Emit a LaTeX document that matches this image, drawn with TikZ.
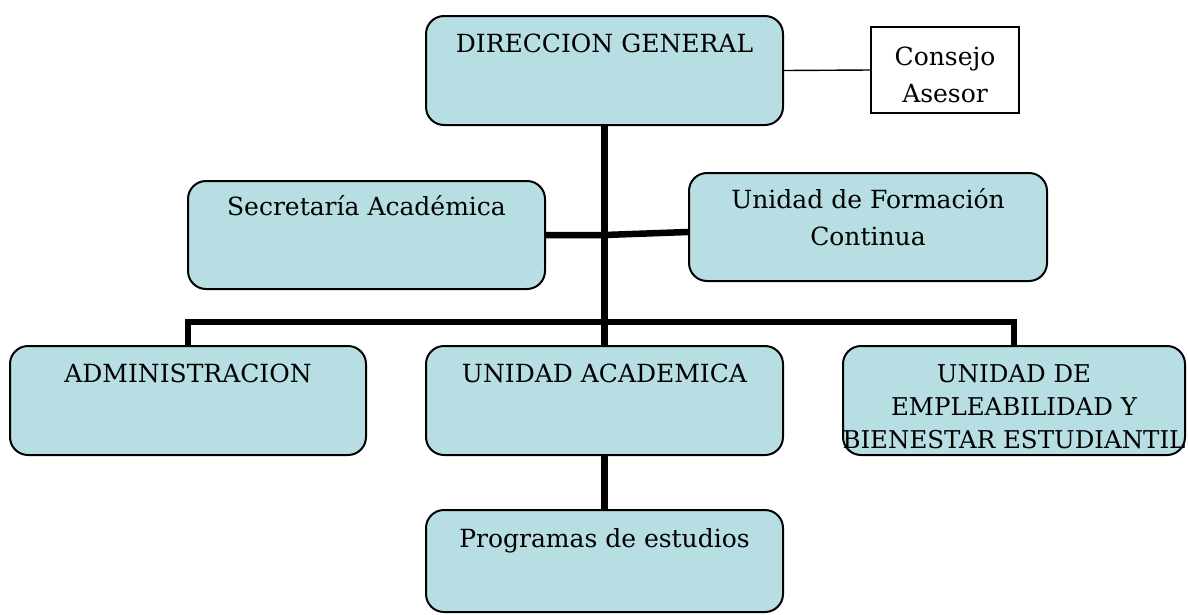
\documentclass[tikz,border=0pt]{standalone}
\usepackage{fontspec}
\setmainfont{DejaVu Serif}
\definecolor{boxfill}{RGB}{183,222,226}
\begin{document}
\begin{tikzpicture}[x=1pt,y=-1pt,
  orgbox/.style={draw=black, line width=2pt, fill=boxfill, rounded corners=18pt, inner sep=0pt},
  plainbox/.style={draw=black, line width=1.6pt, fill=white, inner sep=0pt},
  lbl/.style={inner sep=0pt, align=center, font=\fontsize{25}{37}\selectfont},
  conn/.style={line width=6.5pt},
  thinconn/.style={line width=1.4pt}]
\useasboundingbox (0,0) rectangle (1188,614);

% boxes
\node[orgbox, minimum width=357pt, minimum height=109pt] (dg) at (604.5,70.5) {};
\node[plainbox, minimum width=148pt, minimum height=86pt] (ca) at (945,70) {};
\node[orgbox, minimum width=357pt, minimum height=108pt] (sa) at (366.5,235) {};
\node[orgbox, minimum width=358pt, minimum height=108pt] (ufc) at (868,227) {};
\node[orgbox, minimum width=356pt, minimum height=109pt] (adm) at (188,400.5) {};
\node[orgbox, minimum width=357pt, minimum height=109pt] (ua) at (604.5,400.5) {};
\node[orgbox, minimum width=342pt, minimum height=109pt] (ueb) at (1014,400.5) {};
\node[orgbox, minimum width=357pt, minimum height=102pt] (pe) at (604.5,561) {};

% texts (anchor base = baseline of the last line)
\node[lbl, anchor=base] (dgt) at (604.5,52) {DIRECCION GENERAL};
\node[lbl, anchor=base] (cat) at (945,102) {Consejo\\Asesor};
\node[lbl, anchor=base] (sat) at (366.5,215) {Secretaría Académica};
\node[lbl, anchor=base] (ufct) at (868,245) {Unidad de Formación\\Continua};
\node[lbl, anchor=base] (admt) at (188,382) {ADMINISTRACION};
\node[lbl, anchor=base] (uat) at (604.5,382) {UNIDAD ACADEMICA};
\node[lbl, anchor=base, font=\fontsize{24.5}{33}\selectfont] (uebt) at (1014,448) {UNIDAD DE\\EMPLEABILIDAD Y\\BIENESTAR ESTUDIANTIL};
\node[lbl, anchor=base] (pet) at (604.5,547) {Programas de estudios};

% connectors
\coordinate (bar) at (604.5,322);
\draw[thinconn] (dg.east) -- (ca.west);
\draw[conn] (dg.south) -- (ua.north);
\draw[conn] (sa.east) -- (sa.east -| dg.south) -- ([yshift=-5pt]ufc.west);
\draw[conn] (adm.north) |- (bar) -| (ueb.north);
\draw[conn] (ua.south) -- (pe.north);
\end{tikzpicture}
\end{document}
